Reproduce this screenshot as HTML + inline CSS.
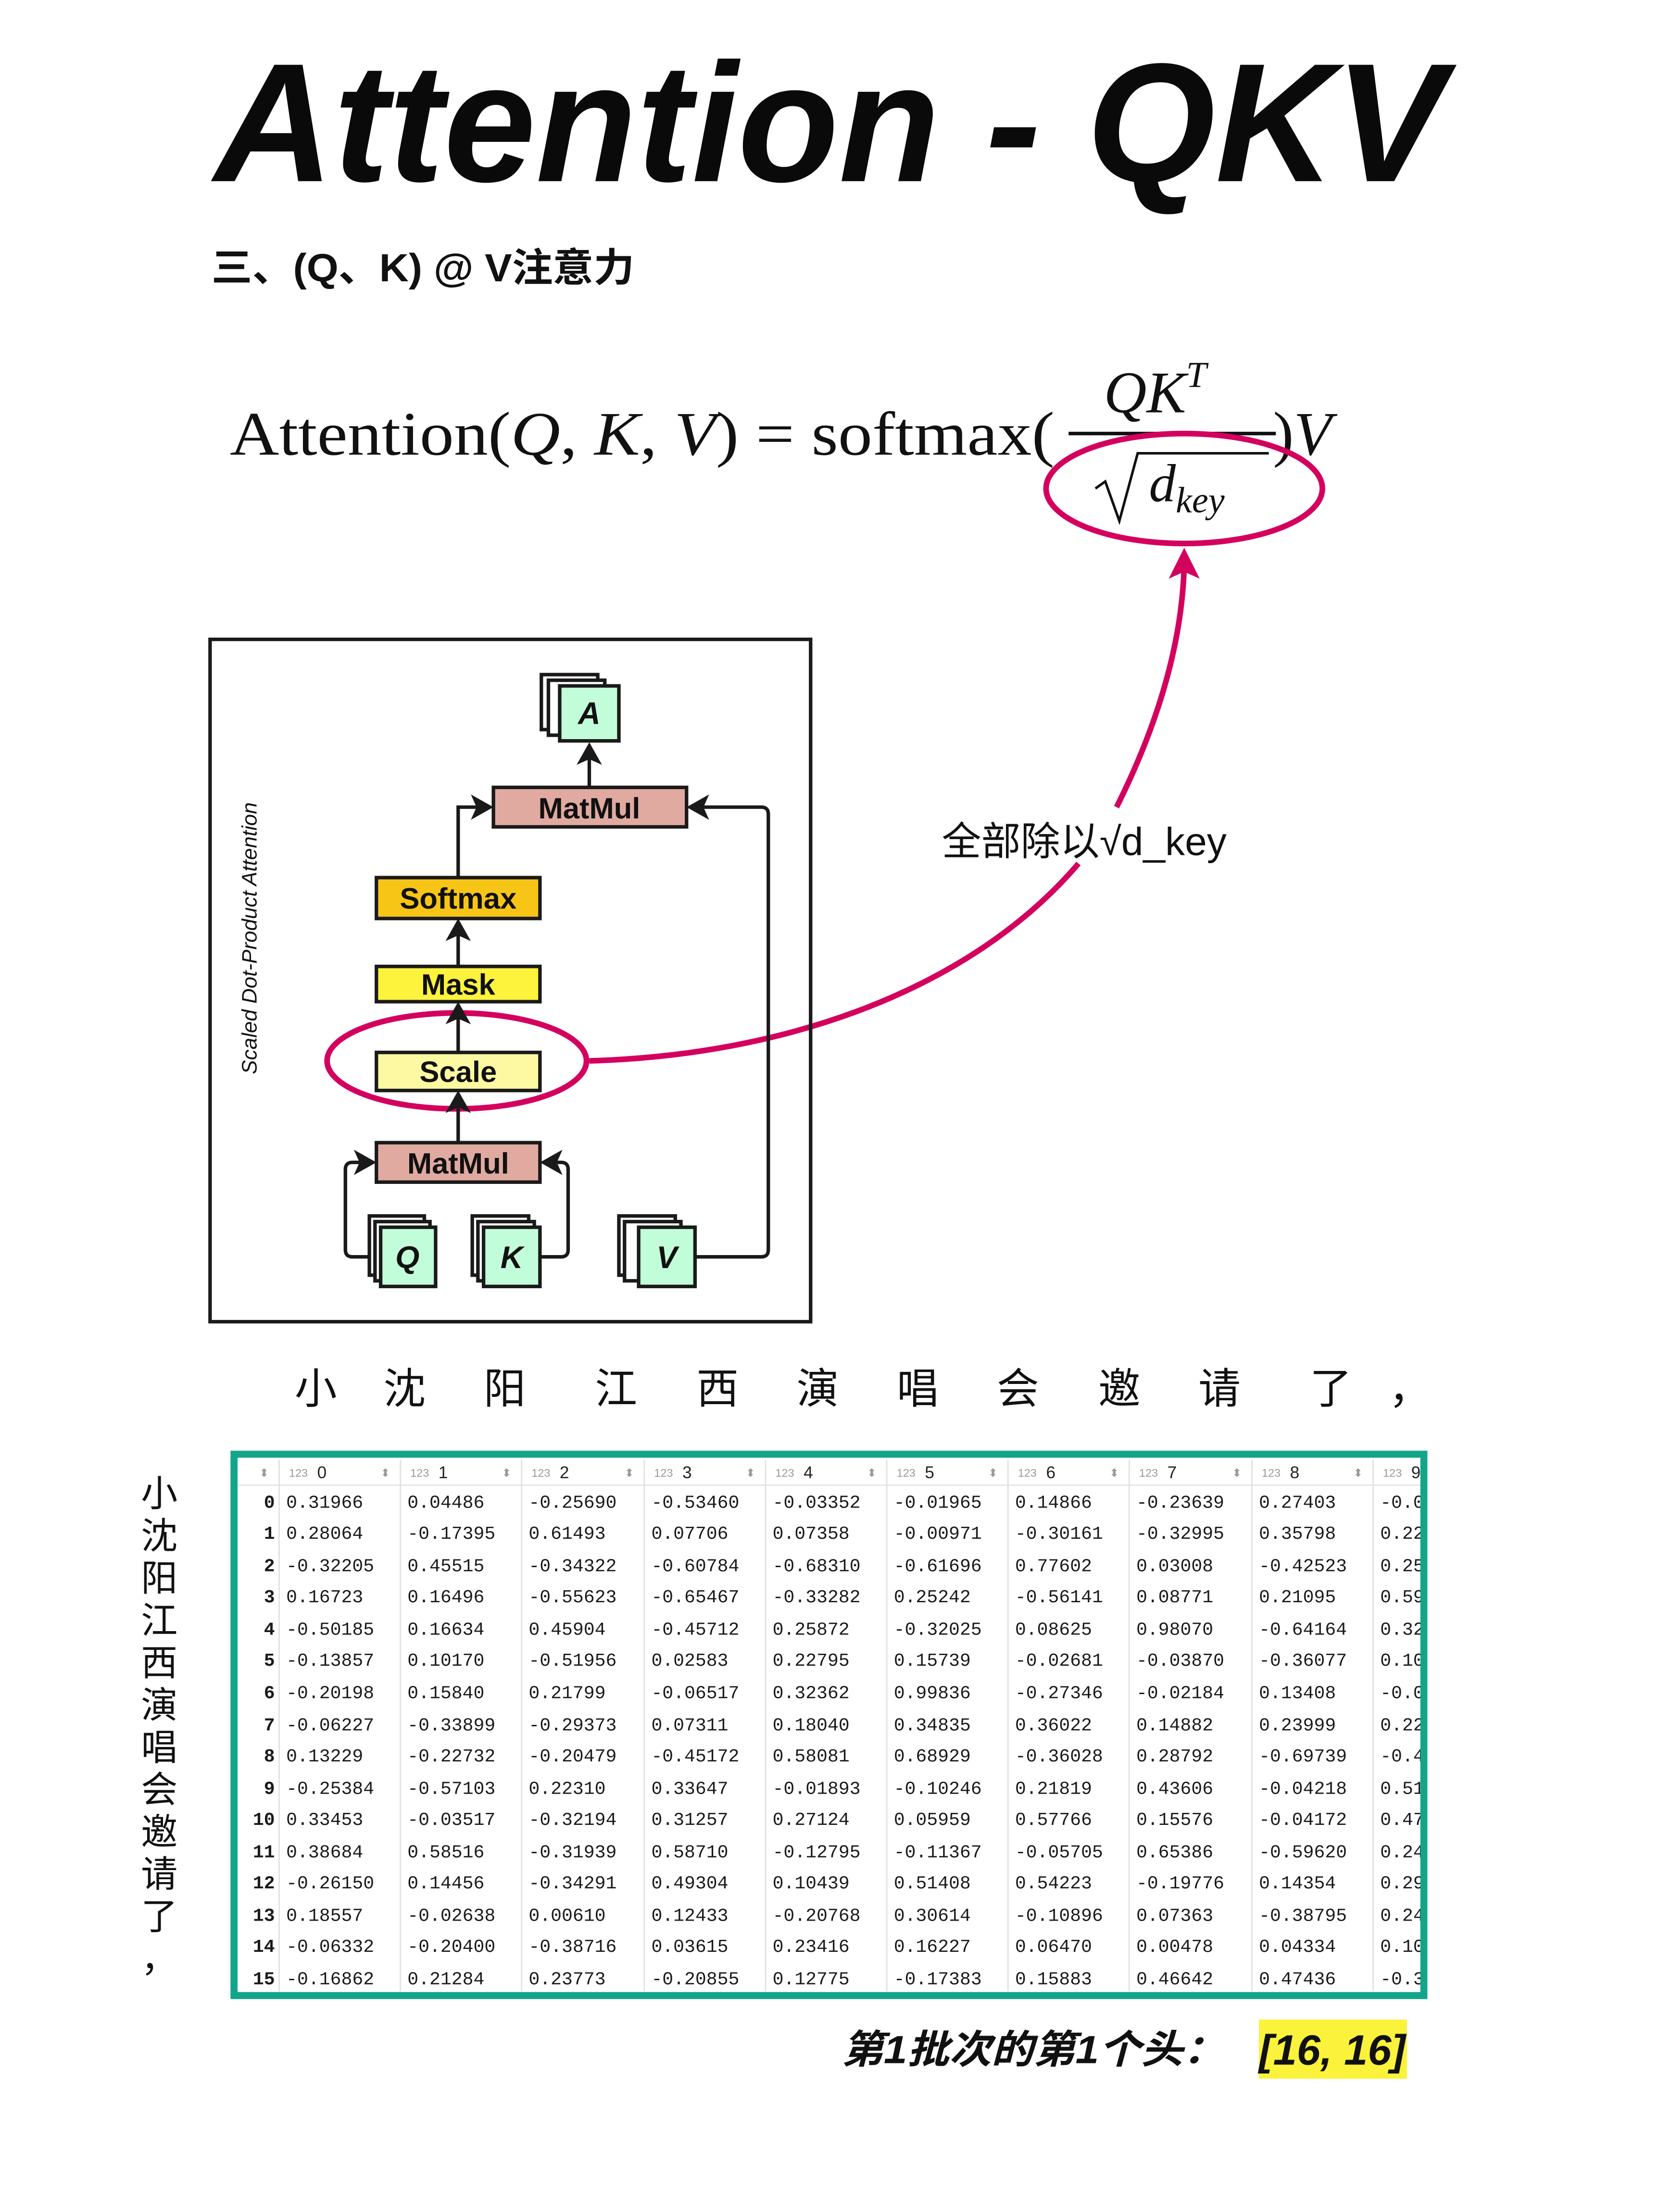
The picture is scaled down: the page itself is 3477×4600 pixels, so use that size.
<!DOCTYPE html>
<html><head><meta charset="utf-8"><style>html,body{margin:0;padding:0;background:#fff}svg{display:block}</style></head>
<body>
<svg xmlns="http://www.w3.org/2000/svg" width="3477" height="4600" viewBox="0 0 1186 1568">
<rect width="1186" height="1568" fill="#fff"/>
<text x="152" y="128" font-family="Liberation Sans, sans-serif" font-weight="bold" font-style="italic" font-size="120" textLength="873" lengthAdjust="spacingAndGlyphs" fill="#0a0a0a">Attention - QKV</text>
<text x="150" y="199" font-family="Liberation Sans, 'Noto Sans CJK SC', sans-serif" font-weight="bold" font-size="28" fill="#111" textLength="300" lengthAdjust="spacingAndGlyphs">三、(Q、K) @ V注意力</text>
<g font-family="Liberation Serif, serif" fill="#111">
<text x="163" y="322" font-size="44" textLength="585" lengthAdjust="spacingAndGlyphs">Attention(<tspan font-style="italic">Q</tspan>, <tspan font-style="italic">K</tspan>, <tspan font-style="italic">V</tspan>) = softmax(</text>
<text x="783" y="292" font-size="42" font-style="italic">QK<tspan font-size="26" dy="-18">T</tspan></text>
<line x1="758" y1="307" x2="905" y2="307" stroke="#111" stroke-width="2.5"/>
<path d="M777 346 L784 341 L794 369 L807 321 L900 321" fill="none" stroke="#111" stroke-width="1.8"/>
<text x="815" y="355" font-size="38" font-style="italic">d<tspan font-size="26" dy="8">key</tspan></text>
<text x="903" y="322" font-size="44">)<tspan font-style="italic">V</tspan></text>
</g>
<g fill="none" stroke="#d4005e" stroke-width="4">
<ellipse cx="840" cy="346" rx="98" ry="39"/>
<path d="M792 572 Q838 480 840 400"/>
<path d="M418 752 C560 748 690 700 765 612"/>
<ellipse cx="324" cy="752" rx="92" ry="34"/>
</g>
<polygon points="840,388 829,410 840,405 851,410" fill="#d4005e"/>
<text x="668" y="606" font-family="Liberation Sans, 'Noto Sans CJK SC', sans-serif" font-size="28" fill="#111">全部除以√d_key</text>
<rect x="149" y="453" width="426" height="484" fill="none" stroke="#1a1a1a" stroke-width="2.5"/>
<text transform="translate(182,665) rotate(-90)" text-anchor="middle" font-family="Liberation Sans, sans-serif" font-style="italic" font-size="15" fill="#111">Scaled Dot-Product Attention</text>
<g stroke="#1a1a1a" stroke-width="2.5" fill="none">
<path d="M418 558 V530"/>
<path d="M325 622 V572 H345"/>
<path d="M493 891 H540 Q545 891 545 886 V577 Q545 572 540 572 H492"/>
<path d="M325 685 V656"/><path d="M325 746 V715"/><path d="M325 810 V778"/>
<path d="M262 891 H250 Q245 891 245 886 V829 Q245 824 250 824 H262"/>
<path d="M383 891 H398 Q403 891 403 886 V829 Q403 824 398 824 H388"/>
</g>
<g fill="#1a1a1a">
<polygon points="418,526 409,542 418,538 427,542"/>
<polygon points="350,572 334,563 338,572 334,581"/>
<polygon points="487,572 503,563 499,572 503,581"/>
<polygon points="325,651 316,667 325,663 334,667"/>
<polygon points="325,710 316,726 325,722 334,726"/>
<polygon points="325,773 316,789 325,785 334,789"/>
<polygon points="267,824 251,815 255,824 251,833"/>
<polygon points="383,824 399,815 395,824 399,833"/>
</g>
<g stroke="#1a1a1a" stroke-width="2.5" font-family="Liberation Sans, sans-serif" font-weight="bold" font-size="21" text-anchor="middle">
<rect x="350" y="558" width="137" height="28" fill="#e0aaa1"/>
<rect x="267" y="622" width="116" height="29" fill="#f7c516"/>
<rect x="267" y="685" width="116" height="25" fill="#fdf23c"/>
<rect x="267" y="746" width="116" height="27" fill="#fdf8a2"/>
<rect x="267" y="810" width="116" height="28" fill="#e0aaa1"/>
<text x="418" y="580" stroke="none" fill="#111">MatMul</text>
<text x="325" y="644" stroke="none" fill="#111">Softmax</text>
<text x="325" y="705" stroke="none" fill="#111">Mask</text>
<text x="325" y="767" stroke="none" fill="#111">Scale</text>
<text x="325" y="832" stroke="none" fill="#111">MatMul</text>
</g>
<g stroke="#1a1a1a" stroke-width="2.5" font-family="Liberation Sans, sans-serif" font-weight="bold" font-style="italic" font-size="22" text-anchor="middle">
<rect x="262" y="862" width="39" height="42" fill="#fff"/><rect x="266" y="866" width="39" height="42" fill="#fff"/><rect x="270" y="870" width="39" height="42" fill="#c2fdd9"/>
<text x="289" y="899" stroke="none" fill="#111">Q</text>
<rect x="335" y="862" width="40" height="42" fill="#fff"/><rect x="339" y="866" width="40" height="42" fill="#fff"/><rect x="343" y="870" width="40" height="42" fill="#c2fdd9"/>
<text x="363" y="899" stroke="none" fill="#111">K</text>
<rect x="439" y="862" width="40" height="42" fill="#fff"/><rect x="443" y="866" width="40" height="42" fill="#fff"/><rect x="453" y="870" width="40" height="42" fill="#c2fdd9"/>
<text x="473" y="899" stroke="none" fill="#111">V</text>
<rect x="384" y="478" width="40" height="39" fill="#fff"/><rect x="389" y="482" width="40" height="39" fill="#fff"/><rect x="397" y="486" width="42" height="39" fill="#c2fdd9"/>
<text x="418" y="513" stroke="none" fill="#111">A</text>
</g>
<g font-family="Liberation Sans, 'Noto Sans CJK SC', sans-serif" font-size="30" fill="#111" text-anchor="middle">
<text x="224" y="995">小</text><text x="287" y="995">沈</text><text x="358" y="995">阳</text><text x="437" y="995">江</text><text x="509" y="995">西</text><text x="580" y="995">演</text><text x="651" y="995">唱</text><text x="722" y="995">会</text><text x="794" y="995">邀</text><text x="865" y="995">请</text><text x="944" y="995">了</text><text x="1000" y="995">，</text>
</g>
<g font-family="Liberation Sans, 'Noto Sans CJK SC', sans-serif" font-size="26" fill="#111" text-anchor="middle">
<text x="113" y="1068">小</text><text x="113" y="1098">沈</text><text x="113" y="1128">阳</text><text x="113" y="1158">江</text><text x="113" y="1188">西</text><text x="113" y="1218">演</text><text x="113" y="1248">唱</text><text x="113" y="1278">会</text><text x="113" y="1308">邀</text><text x="113" y="1338">请</text><text x="113" y="1368">了</text><text x="113" y="1398">，</text>
</g>
<defs><clipPath id="tc"><rect x="168" y="1033" width="840" height="380"/></clipPath></defs>
<g clip-path="url(#tc)">
<line x1="168" y1="1053" x2="1008" y2="1053" stroke="#e3e7ee" stroke-width="1"/>
<g stroke="#e2e2e2" stroke-width="1">
<line x1="198" y1="1035" x2="198" y2="1412"/><line x1="284" y1="1035" x2="284" y2="1412"/><line x1="370" y1="1035" x2="370" y2="1412"/><line x1="457" y1="1035" x2="457" y2="1412"/><line x1="543" y1="1035" x2="543" y2="1412"/><line x1="629" y1="1035" x2="629" y2="1412"/><line x1="715" y1="1035" x2="715" y2="1412"/><line x1="801" y1="1035" x2="801" y2="1412"/><line x1="888" y1="1035" x2="888" y2="1412"/><line x1="974" y1="1035" x2="974" y2="1412"/>
</g>
<g font-family="Liberation Sans, sans-serif" font-size="8" fill="#999">
<text x="205" y="1047">123</text><text x="291" y="1047">123</text><text x="377" y="1047">123</text><text x="464" y="1047">123</text><text x="550" y="1047">123</text><text x="636" y="1047">123</text><text x="722" y="1047">123</text><text x="808" y="1047">123</text><text x="895" y="1047">123</text><text x="981" y="1047">123</text>
<text x="184" y="1047">⬍</text><text x="270" y="1047">⬍</text><text x="356" y="1047">⬍</text><text x="443" y="1047">⬍</text><text x="529" y="1047">⬍</text><text x="615" y="1047">⬍</text><text x="701" y="1047">⬍</text><text x="787" y="1047">⬍</text><text x="874" y="1047">⬍</text><text x="960" y="1047">⬍</text>
</g>
<g font-family="Liberation Sans, sans-serif" font-size="12" fill="#222">
<text x="225" y="1048">0</text><text x="311" y="1048">1</text><text x="397" y="1048">2</text><text x="484" y="1048">3</text><text x="570" y="1048">4</text><text x="656" y="1048">5</text><text x="742" y="1048">6</text><text x="828" y="1048">7</text><text x="915" y="1048">8</text><text x="1001" y="1048">9</text>
</g>
<g font-family="Liberation Mono, monospace" font-size="13" fill="#1a1a1a" font-weight="bold" text-anchor="end">
<text x="195" y="1069">0</text><text x="195" y="1091">1</text><text x="195" y="1114">2</text><text x="195" y="1136">3</text><text x="195" y="1159">4</text><text x="195" y="1181">5</text><text x="195" y="1204">6</text><text x="195" y="1227">7</text><text x="195" y="1249">8</text><text x="195" y="1272">9</text><text x="195" y="1294">10</text><text x="195" y="1317">11</text><text x="195" y="1339">12</text><text x="195" y="1362">13</text><text x="195" y="1384">14</text><text x="195" y="1407">15</text>
</g>
<g font-family="Liberation Mono, monospace" font-size="13" fill="#1a1a1a">
<text y="1069"><tspan x="203">0.31966</tspan><tspan x="289">0.04486</tspan><tspan x="375">-0.25690</tspan><tspan x="462">-0.53460</tspan><tspan x="548">-0.03352</tspan><tspan x="634">-0.01965</tspan><tspan x="720">0.14866</tspan><tspan x="806">-0.23639</tspan><tspan x="893">0.27403</tspan><tspan x="979">-0.0</tspan></text>
<text y="1091"><tspan x="203">0.28064</tspan><tspan x="289">-0.17395</tspan><tspan x="375">0.61493</tspan><tspan x="462">0.07706</tspan><tspan x="548">0.07358</tspan><tspan x="634">-0.00971</tspan><tspan x="720">-0.30161</tspan><tspan x="806">-0.32995</tspan><tspan x="893">0.35798</tspan><tspan x="979">0.22</tspan></text>
<text y="1114"><tspan x="203">-0.32205</tspan><tspan x="289">0.45515</tspan><tspan x="375">-0.34322</tspan><tspan x="462">-0.60784</tspan><tspan x="548">-0.68310</tspan><tspan x="634">-0.61696</tspan><tspan x="720">0.77602</tspan><tspan x="806">0.03008</tspan><tspan x="893">-0.42523</tspan><tspan x="979">0.25</tspan></text>
<text y="1136"><tspan x="203">0.16723</tspan><tspan x="289">0.16496</tspan><tspan x="375">-0.55623</tspan><tspan x="462">-0.65467</tspan><tspan x="548">-0.33282</tspan><tspan x="634">0.25242</tspan><tspan x="720">-0.56141</tspan><tspan x="806">0.08771</tspan><tspan x="893">0.21095</tspan><tspan x="979">0.59</tspan></text>
<text y="1159"><tspan x="203">-0.50185</tspan><tspan x="289">0.16634</tspan><tspan x="375">0.45904</tspan><tspan x="462">-0.45712</tspan><tspan x="548">0.25872</tspan><tspan x="634">-0.32025</tspan><tspan x="720">0.08625</tspan><tspan x="806">0.98070</tspan><tspan x="893">-0.64164</tspan><tspan x="979">0.32</tspan></text>
<text y="1181"><tspan x="203">-0.13857</tspan><tspan x="289">0.10170</tspan><tspan x="375">-0.51956</tspan><tspan x="462">0.02583</tspan><tspan x="548">0.22795</tspan><tspan x="634">0.15739</tspan><tspan x="720">-0.02681</tspan><tspan x="806">-0.03870</tspan><tspan x="893">-0.36077</tspan><tspan x="979">0.10</tspan></text>
<text y="1204"><tspan x="203">-0.20198</tspan><tspan x="289">0.15840</tspan><tspan x="375">0.21799</tspan><tspan x="462">-0.06517</tspan><tspan x="548">0.32362</tspan><tspan x="634">0.99836</tspan><tspan x="720">-0.27346</tspan><tspan x="806">-0.02184</tspan><tspan x="893">0.13408</tspan><tspan x="979">-0.0</tspan></text>
<text y="1227"><tspan x="203">-0.06227</tspan><tspan x="289">-0.33899</tspan><tspan x="375">-0.29373</tspan><tspan x="462">0.07311</tspan><tspan x="548">0.18040</tspan><tspan x="634">0.34835</tspan><tspan x="720">0.36022</tspan><tspan x="806">0.14882</tspan><tspan x="893">0.23999</tspan><tspan x="979">0.22</tspan></text>
<text y="1249"><tspan x="203">0.13229</tspan><tspan x="289">-0.22732</tspan><tspan x="375">-0.20479</tspan><tspan x="462">-0.45172</tspan><tspan x="548">0.58081</tspan><tspan x="634">0.68929</tspan><tspan x="720">-0.36028</tspan><tspan x="806">0.28792</tspan><tspan x="893">-0.69739</tspan><tspan x="979">-0.4</tspan></text>
<text y="1272"><tspan x="203">-0.25384</tspan><tspan x="289">-0.57103</tspan><tspan x="375">0.22310</tspan><tspan x="462">0.33647</tspan><tspan x="548">-0.01893</tspan><tspan x="634">-0.10246</tspan><tspan x="720">0.21819</tspan><tspan x="806">0.43606</tspan><tspan x="893">-0.04218</tspan><tspan x="979">0.51</tspan></text>
<text y="1294"><tspan x="203">0.33453</tspan><tspan x="289">-0.03517</tspan><tspan x="375">-0.32194</tspan><tspan x="462">0.31257</tspan><tspan x="548">0.27124</tspan><tspan x="634">0.05959</tspan><tspan x="720">0.57766</tspan><tspan x="806">0.15576</tspan><tspan x="893">-0.04172</tspan><tspan x="979">0.47</tspan></text>
<text y="1317"><tspan x="203">0.38684</tspan><tspan x="289">0.58516</tspan><tspan x="375">-0.31939</tspan><tspan x="462">0.58710</tspan><tspan x="548">-0.12795</tspan><tspan x="634">-0.11367</tspan><tspan x="720">-0.05705</tspan><tspan x="806">0.65386</tspan><tspan x="893">-0.59620</tspan><tspan x="979">0.24</tspan></text>
<text y="1339"><tspan x="203">-0.26150</tspan><tspan x="289">0.14456</tspan><tspan x="375">-0.34291</tspan><tspan x="462">0.49304</tspan><tspan x="548">0.10439</tspan><tspan x="634">0.51408</tspan><tspan x="720">0.54223</tspan><tspan x="806">-0.19776</tspan><tspan x="893">0.14354</tspan><tspan x="979">0.29</tspan></text>
<text y="1362"><tspan x="203">0.18557</tspan><tspan x="289">-0.02638</tspan><tspan x="375">0.00610</tspan><tspan x="462">0.12433</tspan><tspan x="548">-0.20768</tspan><tspan x="634">0.30614</tspan><tspan x="720">-0.10896</tspan><tspan x="806">0.07363</tspan><tspan x="893">-0.38795</tspan><tspan x="979">0.24</tspan></text>
<text y="1384"><tspan x="203">-0.06332</tspan><tspan x="289">-0.20400</tspan><tspan x="375">-0.38716</tspan><tspan x="462">0.03615</tspan><tspan x="548">0.23416</tspan><tspan x="634">0.16227</tspan><tspan x="720">0.06470</tspan><tspan x="806">0.00478</tspan><tspan x="893">0.04334</tspan><tspan x="979">0.10</tspan></text>
<text y="1407"><tspan x="203">-0.16862</tspan><tspan x="289">0.21284</tspan><tspan x="375">0.23773</tspan><tspan x="462">-0.20855</tspan><tspan x="548">0.12775</tspan><tspan x="634">-0.17383</tspan><tspan x="720">0.15883</tspan><tspan x="806">0.46642</tspan><tspan x="893">0.47436</tspan><tspan x="979">-0.3</tspan></text>
</g>
</g>
<rect x="166" y="1031" width="844" height="384" fill="none" stroke="#13a589" stroke-width="5"/>
<text x="597" y="1463" font-family="Liberation Sans, 'Noto Sans CJK SC', sans-serif" font-weight="bold" font-style="italic" font-size="28" fill="#111" textLength="272" lengthAdjust="spacingAndGlyphs">第1批次的第1个头：</text>
<rect x="893" y="1432" width="105" height="42" fill="#fbf23c"/>
<text x="893" y="1464" font-family="Liberation Sans, sans-serif" font-weight="bold" font-style="italic" font-size="30" fill="#111" textLength="104" lengthAdjust="spacingAndGlyphs">[16, 16]</text>
</svg>
</body></html>
